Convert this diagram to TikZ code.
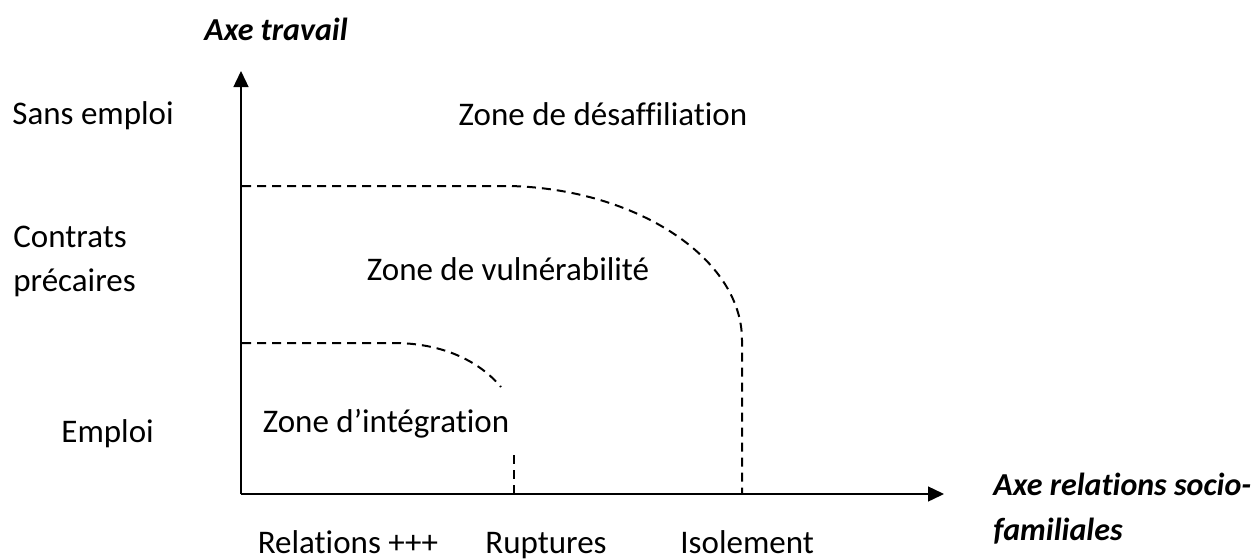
\documentclass[tikz,border=0pt]{standalone}
\usepackage{fontspec}
\setmainfont{Carlito}[Ligatures=NoCommon]
\usetikzlibrary{arrows.meta}
\begin{document}
\begin{tikzpicture}[x=0.5pt,y=-0.5pt,
  lbl/.style={inner sep=0pt,font=\fontsize{16.5}{22}\selectfont},
  axlbl/.style={inner sep=0pt,font=\fontsize{16}{22.5}\selectfont\bfseries\itshape},
  axis/.style={line width=0.7pt,-{Triangle[width=7.5pt,length=8pt]}},
  zone/.style={line width=1pt,dash pattern=on 4.5pt off 3pt}]
\useasboundingbox (0,0) rectangle (1255,559);
% axes
\coordinate (O) at (241,494);
\coordinate (Ytip) at (241,71);
\coordinate (Xtip) at (944,494);
\draw[axis] (O) -- (Ytip);
\draw[axis] (O) -- (Xtip);
% zone boundaries
\coordinate (a1) at (242,186);
\coordinate (a2) at (510,186);
\coordinate (a3) at (742,340);
\coordinate (a4) at (742,493);
\draw[zone] (a1) -- (a2) .. controls (636,189) and (742,258) .. (a3) -- (a4);
\coordinate (b1) at (242,343);
\coordinate (b2) at (397,343);
\coordinate (b3) at (501,387);
\draw[zone] (b1) -- (b2) .. controls (445,344) and (480,362) .. (b3);
\coordinate (c1) at (514,455);
\coordinate (c2) at (514,493);
\draw[zone] (c1) -- (c2);
% labels
\node[axlbl,anchor=base] (ylab) at (276,40) {Axe travail};
\node[lbl,anchor=base west] (sans) at (12,124) {Sans emploi};
\node[lbl,anchor=base west,align=left] (contrats) at (13,291) {Contrats\\précaires};
\node[lbl,anchor=base west] (emploi) at (61,442) {Emploi};
\node[lbl,anchor=base] (zdes) at (603,125) {Zone de désaffiliation};
\node[lbl,anchor=base] (zvul) at (508,280) {Zone de vulnérabilité};
\node[lbl,anchor=base] (zint) at (386,432) {Zone d’intégration};
\node[lbl,anchor=base] (rel) at (348,553) {Relations +++};
\node[lbl,anchor=base] (rup) at (546,553) {Ruptures};
\node[lbl,anchor=base west] (iso) at (680,553) {Isolement};
\node[axlbl,anchor=base west,align=left] (xlab) at (993,540) {Axe relations socio-\\familiales};
\end{tikzpicture}
\end{document}
